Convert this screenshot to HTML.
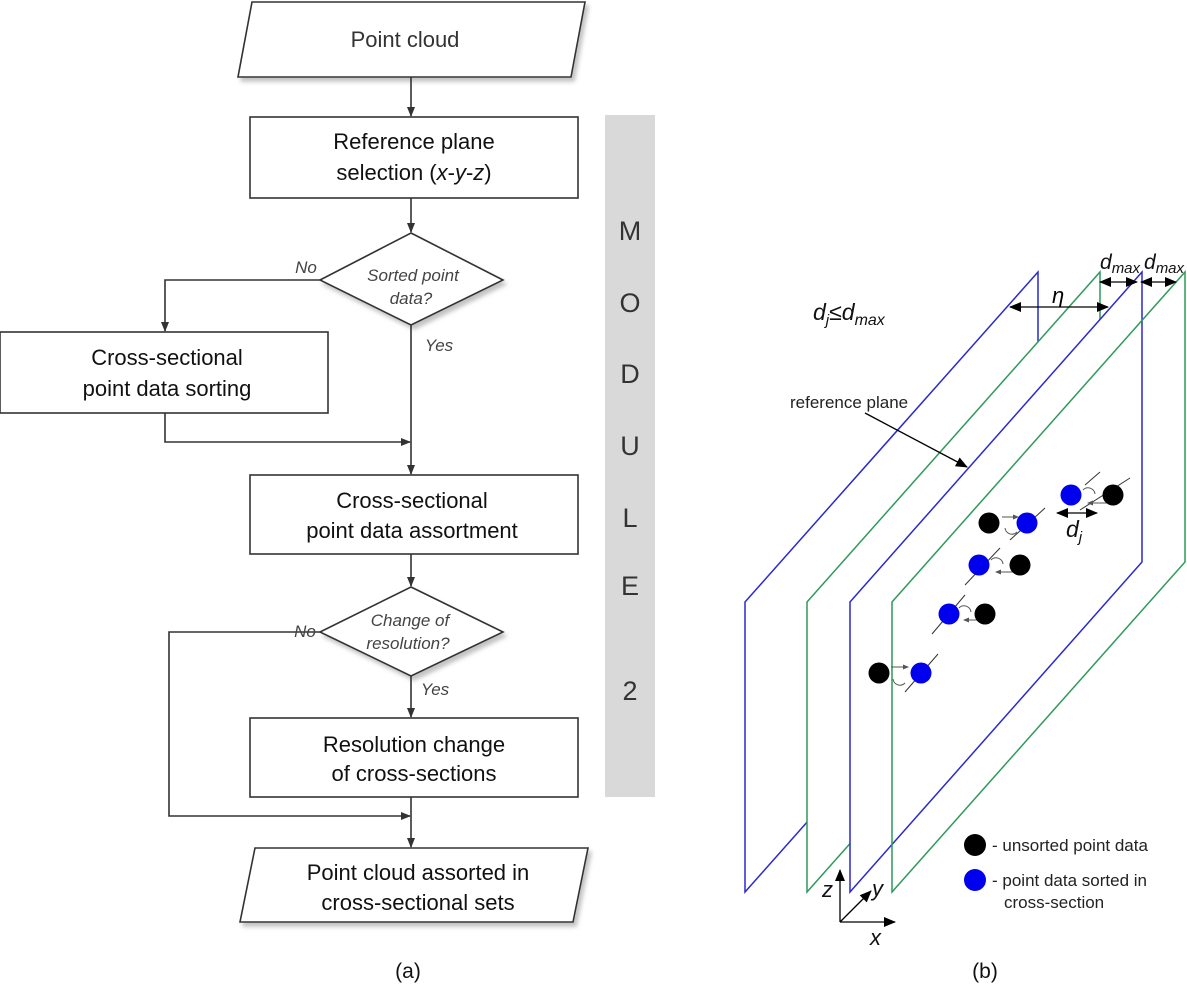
<!DOCTYPE html>
<html><head><meta charset="utf-8"><style>
html,body{margin:0;padding:0;background:#fff;}
svg{display:block;}
text{font-family:"Liberation Sans",sans-serif;}
</style></head><body>
<svg width="1187" height="1000" viewBox="0 0 1187 1000" xmlns="http://www.w3.org/2000/svg">
<defs>
<marker id="ah" markerWidth="10" markerHeight="10" refX="9" refY="5" orient="auto" markerUnits="userSpaceOnUse">
<path d="M0,1 L10,5 L0,9 z" fill="#333"/></marker>
<marker id="ab" markerWidth="12" markerHeight="10" refX="11" refY="5" orient="auto" markerUnits="userSpaceOnUse">
<path d="M0,0 L12,5 L0,10 z" fill="#000"/></marker>
<marker id="abs" markerWidth="12" markerHeight="10" refX="1" refY="5" orient="auto" markerUnits="userSpaceOnUse">
<path d="M12,0 L0,5 L12,10 z" fill="#000"/></marker>
<marker id="sm" markerWidth="6" markerHeight="6" refX="5" refY="3" orient="auto" markerUnits="userSpaceOnUse">
<path d="M0,0.5 L6,3 L0,5.5 z" fill="#555"/></marker>
<filter id="sh" x="-5%" y="-5%" width="115%" height="125%"><feDropShadow dx="3" dy="4" stdDeviation="2" flood-color="#999" flood-opacity="0.6"/></filter>
</defs>

<rect x="605" y="115" width="50" height="682" fill="#d9d9d9"/>
<g font-size="27" fill="#333" text-anchor="middle">
<text x="630" y="240">M</text><text x="630" y="312">O</text><text x="630" y="383">D</text>
<text x="630" y="455">U</text><text x="630" y="527">L</text><text x="630" y="595">E</text>
<text x="630" y="700">2</text></g>

<g stroke="#333" stroke-width="1.6" fill="#fff">
<polygon points="252,2 585,2 571,77 238,77" filter="url(#sh)"/>
<rect x="250" y="117" width="328" height="81"/>
<polygon points="411,233 503,280 411,325 320,280" filter="url(#sh)"/>
<rect x="0" y="332" width="328" height="81"/>
<rect x="250" y="475" width="328" height="79"/>
<polygon points="411,587 503,632 411,676 320,632" filter="url(#sh)"/>
<rect x="250" y="718" width="328" height="79"/>
<polygon points="255,848 588,848 573,922 240,922" filter="url(#sh)"/>
</g>
<g stroke="#333" stroke-width="1.6" fill="none">
<line x1="411" y1="77" x2="411" y2="116" marker-end="url(#ah)"/>
<line x1="411" y1="198" x2="411" y2="232" marker-end="url(#ah)"/>
<polyline points="320,280 165,280 165,331" marker-end="url(#ah)"/>
<line x1="411" y1="325" x2="411" y2="474" marker-end="url(#ah)"/>
<polyline points="165,413 165,442 410,442" marker-end="url(#ah)"/>
<line x1="411" y1="554" x2="411" y2="586" marker-end="url(#ah)"/>
<polyline points="320,632 169,632 169,816 410,816" marker-end="url(#ah)"/>
<line x1="411" y1="676" x2="411" y2="717" marker-end="url(#ah)"/>
<line x1="411" y1="797" x2="411" y2="847" marker-end="url(#ah)"/>
</g>
<g font-size="22" fill="#111" text-anchor="middle">
<text x="405" y="47" fill="#333">Point cloud</text>
<text x="414" y="149">Reference plane</text>
<text x="414" y="180">selection (<tspan font-style="italic">x</tspan>-<tspan font-style="italic">y</tspan>-<tspan font-style="italic">z</tspan>)</text>
<text x="167" y="365">Cross-sectional</text>
<text x="167" y="396">point data sorting</text>
<text x="412" y="508">Cross-sectional</text>
<text x="412" y="538">point data assortment</text>
<text x="414" y="752">Resolution change</text>
<text x="414" y="781">of cross-sections</text>
<text x="418" y="880">Point cloud assorted in</text>
<text x="418" y="910">cross-sectional sets</text>
</g>
<g font-size="17" fill="#444" font-style="italic" text-anchor="middle">
<text x="413" y="281">Sorted point</text><text x="411" y="304">data?</text>
<text x="410" y="626">Change of</text><text x="408" y="649">resolution?</text>
<text x="306" y="273">No</text><text x="439" y="351">Yes</text>
<text x="305" y="637">No</text><text x="435" y="695">Yes</text>
</g>
<text x="408" y="978" font-family="Liberation Serif,serif" font-size="21" text-anchor="middle" fill="#111">(a)</text>

<g stroke-width="1.5">
<polygon points="745,602 1038,272 1038,562 745,892" fill="#fff" stroke="#2a2acf"/>
<polygon points="807,602 1100,272 1100,562 807,892" fill="#fff" stroke="#2e9a5a"/>
<polygon points="850,602 1142,272 1142,562 850,892" fill="#fff" stroke="#2a2acf"/>
<polygon points="892,602 1185,272 1185,562 892,892" fill="none" stroke="#2e9a5a"/>
</g>
<g stroke="#000" stroke-width="1.3">
<line x1="1010" y1="307" x2="1108" y2="307" marker-start="url(#abs)" marker-end="url(#ab)"/>
<line x1="1100" y1="282" x2="1137" y2="282" marker-start="url(#abs)" marker-end="url(#ab)"/>
<line x1="1141" y1="282" x2="1176" y2="282" marker-start="url(#abs)" marker-end="url(#ab)"/>
<line x1="865" y1="413" x2="967" y2="467" marker-end="url(#ab)"/>
<line x1="1057" y1="513" x2="1097" y2="513" marker-start="url(#abs)" marker-end="url(#ab)"/>
</g>
<text x="1052" y="303" font-family="Liberation Serif,serif" font-style="italic" font-size="22">η</text>
<g font-size="21" font-style="italic" fill="#111">
<text x="1100" y="269">d<tspan font-size="15" dy="4">max</tspan></text>
<text x="1144" y="269">d<tspan font-size="15" dy="4">max</tspan></text>
<text x="813" y="320" font-size="23">d<tspan font-size="15" dy="5">j</tspan><tspan dy="-5">≤d</tspan><tspan font-size="16" dy="5">max</tspan></text>
<text x="1066" y="537" font-size="23">d<tspan font-size="15" dy="5">j</tspan></text>
</g>
<text x="790" y="408" font-size="17" fill="#222">reference plane</text>

<g stroke="#333" stroke-width="1">
<line x1="1080" y1="510" x2="1130" y2="478"/><line x1="1085" y1="485" x2="1100" y2="472"/>
<line x1="1010" y1="540" x2="1045" y2="508"/>
<line x1="965" y1="585" x2="1000" y2="548"/>
<line x1="932" y1="634" x2="965" y2="595"/>
<line x1="905" y1="692" x2="938" y2="654"/>
</g>
<g stroke="#555" stroke-width="1" fill="none">
<line x1="1108" y1="503" x2="1088" y2="503" marker-end="url(#sm)"/>
<line x1="1002" y1="517" x2="1018" y2="517" marker-end="url(#sm)"/>
<line x1="1014" y1="572" x2="996" y2="572" marker-end="url(#sm)"/>
<line x1="980" y1="620" x2="964" y2="620" marker-end="url(#sm)"/>
<line x1="891" y1="667" x2="908" y2="667" marker-end="url(#sm)"/>
<path d="M1083,490 a7,7 0 0 1 12,4"/><path d="M1005,528 a7,7 0 0 0 12,4"/>
<path d="M991,560 a7,7 0 0 1 12,4"/><path d="M959,608 a7,7 0 0 1 12,4"/><path d="M893,679 a7,7 0 0 0 12,4"/>
</g>
<g>
<circle cx="1071" cy="495" r="10.5" fill="#0000ee"/><circle cx="1113" cy="495" r="10.5" fill="#000"/>
<circle cx="989" cy="523" r="10.5" fill="#000"/><circle cx="1027" cy="523" r="10.5" fill="#0000ee"/>
<circle cx="979" cy="565" r="10.5" fill="#0000ee"/><circle cx="1020" cy="565" r="10.5" fill="#000"/>
<circle cx="949" cy="614" r="10.5" fill="#0000ee"/><circle cx="985" cy="614" r="10.5" fill="#000"/>
<circle cx="879" cy="673" r="10.5" fill="#000"/><circle cx="921" cy="673" r="10.5" fill="#0000ee"/>
</g>

<g stroke="#000" stroke-width="1.3">
<line x1="840" y1="922" x2="840" y2="870" marker-end="url(#ab)"/>
<line x1="840" y1="922" x2="871" y2="891" marker-end="url(#ab)"/>
<line x1="840" y1="922" x2="895" y2="922" marker-end="url(#ab)"/>
</g>
<g font-size="22" font-style="italic" fill="#111">
<text x="822" y="897">z</text><text x="872" y="896">y</text><text x="870" y="945">x</text>
</g>

<circle cx="975" cy="845" r="11" fill="#000"/>
<circle cx="975" cy="880" r="11" fill="#0000ee"/>
<g font-size="17" fill="#222">
<text x="992" y="851">- unsorted point data</text>
<text x="992" y="886">- point data sorted in</text>
<text x="1004" y="908">cross-section</text>
</g>
<text x="985" y="978" font-family="Liberation Serif,serif" font-size="21" text-anchor="middle" fill="#111">(b)</text>
</svg>
</body></html>
